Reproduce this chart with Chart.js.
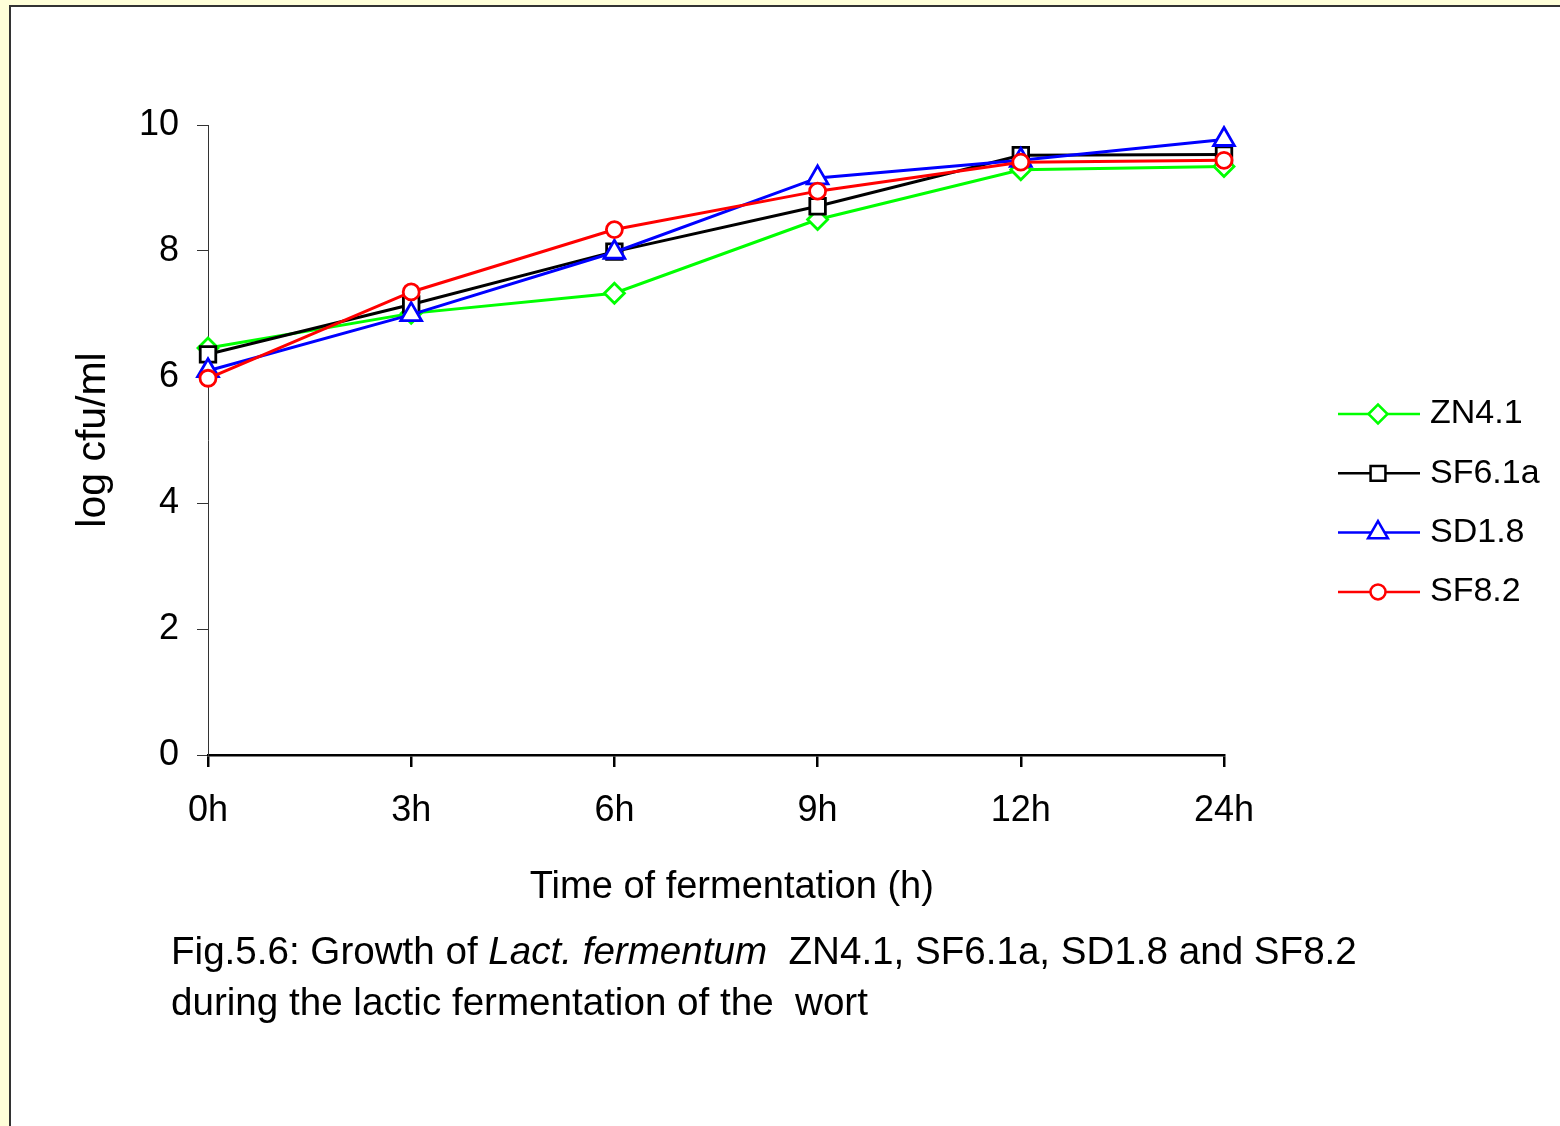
<!DOCTYPE html>
<html>
<head>
<meta charset="utf-8">
<script src="https://cdn.jsdelivr.net/npm/chart.js@4/dist/chart.umd.min.js"></script>
<style>
  html, body { margin: 0; padding: 0; }
  body { width: 1560px; height: 1126px; background: #ffffd9; position: relative; overflow: hidden;
         font-family: "Liberation Sans", Arial, sans-serif; }
  #panel { position: absolute; left: 9px; top: 5px; width: 1560px; height: 1130px; background: #ffffff;
           border-left: 2px solid #333333; border-top: 2px solid #333333; }
  #chart { position: absolute; left: 0; top: 0; }
  #caption { position: absolute; left: 171px; top: 925px; font-size: 38.6px; line-height: 51px; color: #000;
             white-space: pre; }
</style>
</head>
<body>
<div id="panel"></div>
<canvas id="chart" width="1560" height="1126"></canvas>
<div id="caption">Fig.5.6: Growth of <i>Lact. fermentum</i>  ZN4.1, SF6.1a, SD1.8 and SF8.2
during the lactic fermentation of the  wort</div>
<script>
// ---- data ----
const categories = ['0h', '3h', '6h', '9h', '12h', '24h'];
const seriesNames = ['ZN4.1', 'SF6.1a', 'SD1.8', 'SF8.2'];
const zn41  = [6.46, 7.01, 7.33, 8.50, 9.29, 9.34];
const sf61a = [6.36, 7.15, 7.99, 8.71, 9.52, 9.53];
const sd18  = [6.10, 6.99, 7.98, 9.16, 9.44, 9.77];
const sf82  = [5.98, 7.35, 8.34, 8.95, 9.41, 9.44];
const yTicks = [0, 2, 4, 6, 8, 10];

const FONT = '"Liberation Sans", Arial, sans-serif';

function ds(label, data, color, style, radius, legendRadius, order) {
  return {
    label: label, data: data, borderColor: color, backgroundColor: '#ffffff',
    borderWidth: 3, pointStyle: style, pointRadius: radius, pointHoverRadius: radius,
    pointBorderWidth: 2.8, pointBackgroundColor: '#ffffff', pointBorderColor: color,
    legendRadius: legendRadius,
    tension: 0, fill: false, order: order
  };
}

const datasets = [
  ds(seriesNames[0], zn41, '#00ff00', 'rectRot', 10, 9.5, 4),
  ds(seriesNames[1], sf61a, '#000000', 'rect', 11, 10.5, 3),
  ds(seriesNames[2], sd18, '#0000ff', 'triangle', 12, 11.5, 2),
  ds(seriesNames[3], sf82, '#ff0000', 'circle', 8, 7.5, 1)
];

const legendPlugin = {
  id: 'lineLegend',
  afterDraw(chart) {
    const ctx = chart.ctx;
    const x0 = 1338, x1 = 1420, xm = 1378, xt = 1430;
    const y0 = 414, dy = 59.3;
    chart.data.datasets.forEach((d, i) => {
      const y = y0 + i * dy;
      ctx.save();
      ctx.strokeStyle = d.borderColor;
      ctx.lineWidth = 2.5;
      ctx.beginPath(); ctx.moveTo(x0, y); ctx.lineTo(x1, y); ctx.stroke();
      ctx.fillStyle = '#ffffff';
      ctx.lineWidth = 2.5;
      Chart.helpers.drawPoint(ctx, {pointStyle: d.pointStyle, radius: d.legendRadius, borderWidth: 2.5, rotation: 0}, xm, y);
      ctx.fillStyle = '#000000';
      ctx.font = '34px ' + FONT;
      ctx.textAlign = 'left';
      ctx.textBaseline = 'middle';
      ctx.fillText(d.label, xt, y);
      ctx.restore();
    });
  }
};

new Chart(document.getElementById('chart'), {
  type: 'line',
  data: { labels: categories, datasets: datasets },
  options: {
    responsive: false,
    devicePixelRatio: 1,
    animation: false,
    events: [],
    layout: { padding: { left: 20, top: 125, right: 336, bottom: 201 } },
    plugins: { legend: { display: false }, tooltip: { enabled: false } },
    scales: {
      x: {
        type: 'category',
        offset: false,
        afterFit(scale) { scale.height = 170; },
        grid: { drawOnChartArea: false, drawTicks: true, tickLength: 12, color: '#000000', lineWidth: 2.5 },
        border: { display: true, color: '#000000', width: 2.5 },
        ticks: { color: '#000000', font: { family: FONT, size: 36 }, padding: 22, maxRotation: 0, autoSkip: false },
        title: { display: true, text: '   Time of fermentation (h)', color: '#000000',
                 font: { family: FONT, size: 38 }, padding: { top: 0, bottom: 15 } }
      },
      y: {
        min: 0, max: 10,
        afterFit(scale) { scale.width = 188; },
        afterBuildTicks(scale) { scale.ticks = yTicks.map(v => ({ value: v })); },
        grid: { drawOnChartArea: false, drawTicks: true, tickLength: 11, color: '#333333', lineWidth: 1 },
        border: { display: true, color: '#333333', width: 1 },
        ticks: { color: '#000000', font: { family: FONT, size: 36 }, padding: 18 },
        title: { display: true, text: 'log cfu/ml', color: '#000000',
                 font: { family: FONT, size: 41 }, padding: { top: 49, bottom: 0 } }
      }
    }
  },
  plugins: [legendPlugin]
});
</script>
</body>
</html>
